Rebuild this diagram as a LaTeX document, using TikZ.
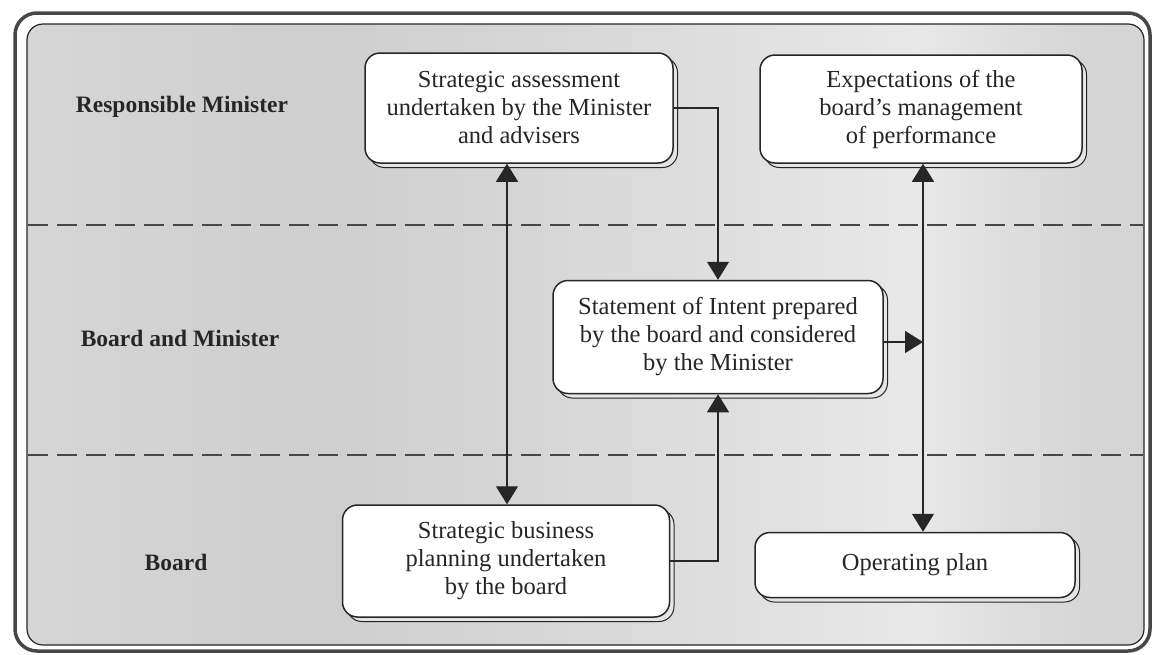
\documentclass[tikz,border=0pt]{standalone}
\usepackage{fontspec}
\setmainfont{Liberation Serif}
\usetikzlibrary{arrows.meta,shadows}
\definecolor{ink}{gray}{0.15}
\definecolor{gA}{gray}{0.84}
\definecolor{gB}{gray}{0.91}
\definecolor{gC}{gray}{0.81}
\definecolor{gD}{gray}{0.89}
\pgfdeclarehorizontalshading{bgshade}{100bp}{color(0bp)=(gA); color(11bp)=(gA); color(17bp)=(gB); color(24bp)=(gA); color(38bp)=(gC); color(48bp)=(gA); color(60bp)=(gD); color(65bp)=(gB); color(72bp)=(gA); color(87bp)=(gC); color(100bp)=(gA)}
\newcommand\bxfont{\fontsize{24.5}{28}\selectfont}
\newcommand\lblfont{\bfseries\fontsize{23.5}{26}\selectfont}
\tikzset{
  mybox/.style={draw=ink, line width=1.5pt, fill=white, rounded corners=15pt,
    align=center, inner sep=0pt, font=\bxfont, text=ink,
    copy shadow={shadow xshift=4.5pt, shadow yshift=-4.5pt, fill=gray!20, draw=ink, line width=1pt}},
  lbl/.style={font=\lblfont, text=ink},
  arr/.style={draw=ink, line width=1.3pt, -{Triangle[width=22pt,length=18pt]}},
  darr/.style={draw=ink, line width=1.3pt, {Triangle[width=22pt,length=18pt]}-{Triangle[width=22pt,length=18pt]}},
  sep/.style={draw=ink!85, line width=1.3pt, dash pattern=on 20pt off 9pt}
}
\begin{document}
\begin{tikzpicture}[x=1pt,y=-1pt]
\useasboundingbox (0,0) rectangle (1155,654);
\fill[white] (0,0) rectangle (1155,654);
% frame
\draw[line width=3.5pt, ink!85, rounded corners=22pt] (15,13) rectangle (1150,651);
\shade[shading=bgshade, draw=ink, line width=1.2pt, rounded corners=16pt] (27,24) rectangle (1144,645);
% separators
\coordinate (s1l) at (28,225); \coordinate (s1r) at (1143,225);
\coordinate (s2l) at (28,455); \coordinate (s2r) at (1143,455);
\draw[sep] (s1l) -- (s1r);
\draw[sep] (s2l) -- (s2r);
% row labels
\node[lbl] (l1) at (182,107) {Responsible Minister};
\node[lbl] (l2) at (180,338) {Board and Minister};
\node[lbl] (l3) at (176,562) {Board};
% boxes
\node[mybox, minimum width=308pt, minimum height=110pt] (b1) at (519,108)
  {Strategic assessment\\undertaken by the Minister\\and advisers};
\node[mybox, minimum width=322pt, minimum height=108pt] (b2) at (921,109)
  {Expectations of the\\board’s management\\of performance};
\node[mybox, minimum width=330pt, minimum height=113pt] (b3) at (718,337)
  {Statement of Intent prepared\\by the board and considered\\by the Minister};
\node[mybox, minimum width=327pt, minimum height=112pt] (b4) at (506,561)
  {Strategic business\\planning undertaken\\by the board};
\node[mybox, minimum width=320pt, minimum height=65pt] (b5) at (915,565)
  {Operating plan};
% connectors
\coordinate (la) at (507,0);
\coordinate (ra) at (923,0);
\draw[darr] (b1.south -| la) -- (b4.north -| la);
\draw[darr] (b2.south -| ra) -- (b5.north -| ra);
\draw[arr] (b1.east) -| (b3.north);
\draw[arr] (b4.east) -| (b3.south);
\draw[arr] ([yshift=-5pt]b3.east) -- ([yshift=-5pt]b3.east -| ra);
\end{tikzpicture}
\end{document}
